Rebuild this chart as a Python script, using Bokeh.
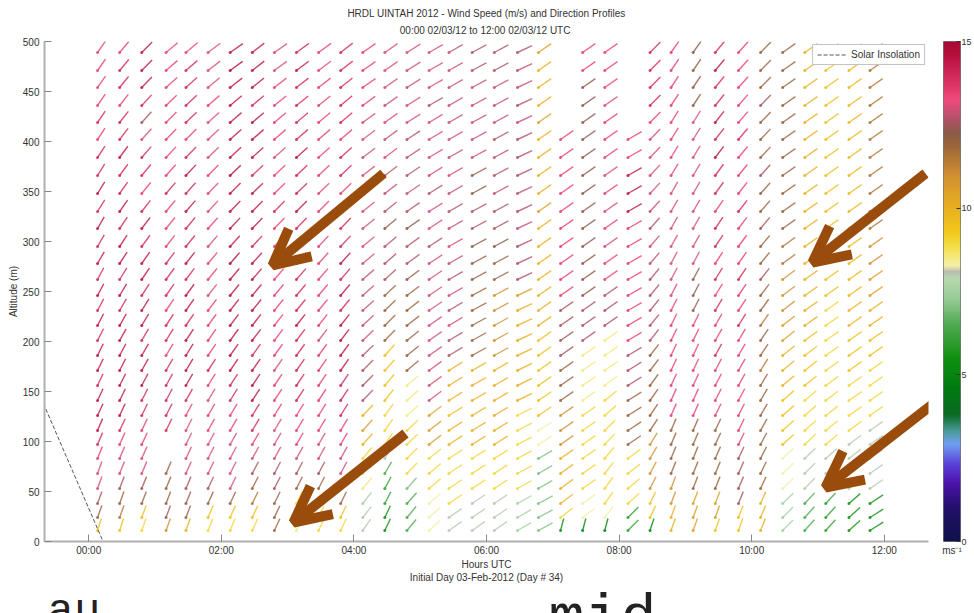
import numpy as np
import pandas as pd
from bokeh.plotting import figure
from bokeh.layouts import row, column
from bokeh.models import (ColumnDataSource, LinearColorMapper, FixedTicker, LinearAxis,
                          Legend, LegendItem, Arrow, OpenHead, Range1d, Title)
from bokeh.transform import linear_cmap
from bokeh.core.properties import value
from bokeh.embed import file_html
from bokeh.resources import INLINE

# ---------------- texts ----------------
TITLE_1 = "HRDL UINTAH 2012 - Wind Speed (m/s) and Direction Profiles"
TITLE_2 = "00:00 02/03/12 to 12:00 02/03/12  UTC"
X_TITLE = "Hours UTC"
X_TITLE_2 = "Initial Day 03-Feb-2012 (Day # 34)"
Y_TITLE = "Altitude (m)"
LEGEND_LABEL = "Solar Insolation"
CB_UNIT = "ms\u207b\u00b9"
SLIDE_TEXTS = ["au", "mid"]

X_TICKS = [0, 120, 240, 360, 480, 600, 720]
X_TICK_LABELS = ["00:00", "02:00", "04:00", "06:00", "08:00", "10:00", "12:00"]
Y_TICKS = [0, 50, 100, 150, 200, 250, 300, 350, 400, 450, 500]
CB_TICKS = [0, 5, 10, 15]

# ---------------- data ----------------
PROFILE_TIME_MIN = [8, 28, 48, 70, 88, 108, 128, 148, 168, 188, 208, 228,
                    248, 268, 288, 308, 326, 347, 367, 388, 407, 427, 447, 467,
                    488, 508, 527, 547, 567, 588, 608, 628, 648, 667, 688, 707]
GATE_ALT_M = [11, 24, 38, 53, 68, 83, 97, 111, 126, 141, 156, 171, 186, 201, 216, 231,
              246, 262, 278, 295, 313, 330, 348, 366, 384, 402, 419, 436, 454, 471, 489]

SOLAR_T = [-41, 13]
SOLAR_V = [138, 0]

spd_00 = [9.5, 12, 12.5, 13, 13, 13.5, 14, 14.5, 14.5, 14.5, 14, 14.5, 14.5, 14, 14.5, 14,
          14.5, 14, 14.5, 14, 14.5, 14, 14.5, 14, 14, 13.5, 14, 13.5, 13, 13.5, 13]
dir_00 = [198, 200, 200, 200, 200, 202, 203, 203, 205, 205, 205, 206, 206, 207, 207, 208,
          208, 208, 210, 210, 210, 212, 212, 212, 213, 213, 214, 214, 215, 215, 215]
spd_01 = [9.5, 11.5, 12, 12.5, 13, 13, 13.5, 14, 14.5, 14.5, 14.5, 14.5, 14.5, 14.5, 14.5, 14,
          14.5, 14, 14.5, 14.5, 14, 14.5, 14, 14, 14.5, 14, 14, 13.5, 14, 14, 13.5]
dir_01 = [198, 200, 200, 201, 202, 203, 204, 205, 205, 206, 207, 207, 208, 209, 210, 210,
          211, 212, 213, 213, 214, 215, 215, 216, 216, 217, 218, 218, 219, 220, 220]
spd_02 = [9, 9.5, 12, 12.5, 13, 13, 13.5, 13.5, 14, 14, 14.5, 14.5, 14.5, 14, 14.5, 14.5,
          14, 14.5, 14.5, 14, 14.5, 14, 13.5, 14, 14, 13, 12.5, 14, 14.5, 14.5, 14.5]
dir_02 = [200, 200, 201, 202, 203, 204, 205, 205, 206, 207, 208, 209, 210, 210, 211, 212,
          213, 214, 215, 216, 217, 218, 219, 220, 221, 222, 222, 223, 224, 225, 225]
spd_03 = [11, 12.5, 12, 12, 12, None, None, 14, 14, 14, 14, 14, 13.5, 14, 14, 13.5,
          14, 14, 14, 13.5, 13.5, 13.5, 14, 13.5, 13.5, 13.5, 13.5, 13.5, 13.5, 13.5, 13.5]
dir_03 = [200, 200, 201, 202, 203, None, None, 206, 207, 208, 209, 210, 211, 212, 213, 214,
          215, 216, 217, 218, 219, 220, 221, 222, 223, 224, 225, 226, 228, 229, 230]
spd_04 = [10, 12, 12.5, 12.5, 13, 13, 13, 13, 13.5, 14, 14.5, 14.5, 14.5, 14.5, 14, 14.5,
          14.5, 14, 14.5, 14, 14, 14.5, 14, 14.5, 14, 13.5, 14, 14, 14, 14, 13.5]
dir_04 = [200, 201, 202, 203, 204, 205, 206, 207, 208, 209, 210, 211, 212, 213, 214, 215,
          216, 217, 218, 219, 220, 221, 222, 223, 224, 225, 226, 227, 228, 229, 230]
spd_05 = [9, 9.5, 12, 12.5, 13, 13, 13, 13.5, 13.5, 13, 13.5, 14, 13.5, 13.5, 13.5, 13.5,
          13, 13.5, 13, 13, 13.5, 13, 13, 13.5, 13, 13, 13, 13.5, 13, 13, 13]
dir_05 = [202, 203, 204, 205, 206, 207, 208, 209, 210, 211, 212, 213, 214, 215, 216, 217,
          218, 219, 220, 221, 222, 223, 224, 225, 226, 227, 228, 229, 230, 232, 233]
spd_06 = [9, 9.5, 12, 13, 13, 13, 13, 13.5, 13.5, 14, 14, 14.5, 14.5, 14.5, 14.5, 14.5,
          14.5, 14.5, 15, 14.5, 14.5, 14.5, 14.5, 15, 14.5, 14.5, 14.5, 14.5, 14.5, 15, 14.5]
dir_06 = [203, 204, 205, 206, 207, 208, 209, 210, 211, 212, 213, 214, 215, 216, 217, 218,
          219, 220, 221, 222, 223, 224, 225, 226, 227, 228, 229, 230, 232, 234, 235]
spd_07 = [9, 9.5, 11.5, 12, 12.5, 13, 13.5, 14, 14, 14.5, 14.5, 14.5, 14, 14.5, 14.5, 14.5,
          14.5, 14.5, 14.5, 14, 14.5, 14.5, 14.5, 14, 14.5, 14.5, 14.5, 14, 14.5, 14.5, 14.5]
dir_07 = [205, 205, 206, 207, 208, 209, 210, 211, 212, 213, 214, 215, 216, 217, 218, 219,
          220, 221, 222, 223, 224, 225, 226, 227, 228, 229, 230, 230, 231, 232, 232]
spd_08 = [12, 12, 12, 12.5, 12.5, 13, 13, 13, 13.5, 13.5, 13.5, 13, 13.5, 13.5, 13.5, 13.5,
          13.5, 13.5, 14, 13.5, 13.5, 14, 13.5, 13.5, 13, 13.5, 13.5, 13.5, 13.5, 13, 13]
dir_08 = [205, 205, 206, 207, 208, 209, 210, 211, 212, 213, 214, 215, 216, 217, 218, 219,
          220, 221, 222, 223, 224, 225, 226, 227, 228, 229, 230, 231, 232, 234, 235]
spd_09 = [8.5, 8.5, 9, 12, 12.5, 13, 13.5, 13.5, 13.5, 14, 14, 14, 14, 14, 14.5, 14,
          14, 14, 14.5, 14.5, 14, 14.5, 14, 14, 14.5, 14, 14, 14, 14, 14.5, 14]
dir_09 = [205, 205, 206, 207, 208, 209, 210, 211, 212, 213, 214, 215, 216, 217, 218, 219,
          220, 221, 222, 223, 224, 225, 226, 227, 228, 229, 230, 231, 232, 233, 234]
spd_10 = [9, 9, 9.5, 12, 12.5, 13, 13, 13.5, 13.5, 13.5, 13.5, 13.5, 13.5, 13, 13.5, 13.5,
          13.5, 13.5, 13.5, 13.5, 13.5, 13.5, 13, 13.5, 13.5, 13.5, 13.5, 13.5, 13.5, 13.5, 13.5]
dir_10 = [205, 205, 206, 207, 208, 209, 210, 211, 212, 213, 214, 215, 216, 217, 218, 219,
          220, 221, 222, 223, 224, 225, 226, 227, 228, 229, 230, 231, 232, 233, 234]
spd_11 = [9, 9.5, 12, 12, 13, 13, 13.5, 13.5, 14, 14, 14, 14.5, 14.5, 14.5, 14.5, 14,
          14.5, 14, 14.5, 14, 14, 14, 13.5, 14, 14, 13.5, 14, 14, 14, 14, 14]
dir_11 = [205, 205, 206, 207, 208, 209, 210, 211, 212, 213, 214, 215, 216, 217, 218, 219,
          220, 221, 222, 223, 224, 225, 226, 227, 228, 229, 230, 230, 231, 232, 232]
spd_12 = [8, 8, 7.5, 8.5, 9, 9, 10, 10.5, 10, 12.6, 12.6, 12.6, 12.6, 12.8, 12.8, 12.8,
          12.8, 12.8, 12.8, 13, 12.8, 13, 13, 13, 12.8, 13, 13, 13.5, 13.5, 13.5, 13.5]
dir_12 = [215, 218, 218, 220, 220, 220, 222, 222, 224, 224, 225, 225, 226, 226, 227, 228,
          228, 229, 230, 230, 231, 231, 232, 232, 233, 233, 234, 234, 235, 235, 235]
spd_13 = [5.5, 5.5, 6, 6, 6.5, 8, 9, 9, 9, 9.5, 9.5, 9.5, 9.5, 12, 12, 12,
          12, 12.6, 12.6, 12.6, 12.3, 12.6, 12.8, 12.6, 13, 12.8, 13, 12.8, 13, 13, 13]
dir_13 = [205, 205, 207, 208, 210, 212, 214, 215, 216, 218, 220, 222, 222, 224, 225, 226,
          227, 228, 229, 230, 230, 231, 232, 233, 233, 234, 234, 235, 235, 235, 235]
spd_14 = [6.5, 6.5, 6.5, 7, 9, 9, 9, 9, 8.5, 8.5, 8.5, 12, 12, 12, 12, 12,
          12, 12.3, 12.6, 12.6, 12.3, 12.6, 12.8, 12.6, 12.8, 12.6, 13, 13, 12.8, 12.8, 13]
dir_14 = [220, 220, 222, 222, 224, 225, 226, 227, 228, 229, 230, 230, 231, 231, 232, 232,
          233, 233, 234, 234, 235, 235, 236, 236, 237, 237, 238, 238, 238, 238, 238]
spd_15 = [8.3, 8.3, 8.3, 9, 9, 9, 10.5, 10.5, 10.5, 13, 13, 13, 13, 13, 13, 13,
          13, 13, 13, 12.6, 13, 13, 12.6, 13, 13, 13, 13, 12.6, 13, 13, 13]
dir_15 = [228, 228, 229, 230, 230, 231, 232, 232, 233, 233, 234, 234, 235, 235, 235, 236,
          236, 236, 237, 237, 237, 238, 238, 238, 239, 239, 239, 240, 240, 240, 240]
spd_16 = [8, 8, 9, 9, 9, 9, 10, 10, 9.5, 10, 10, 10, 12.6, 12.6, 13, 12.6,
          13, 12.6, 12.8, 13, 12.8, 12.6, 12.8, 13, 12.8, 13, 12.8, 12.8, 12.8, 12.8, 12.8]
dir_16 = [235, 235, 236, 236, 236, 237, 237, 237, 238, 238, 238, 238, 239, 239, 239, 239,
          240, 240, 240, 240, 240, 240, 240, 240, 240, 240, 240, 240, 240, 240, 240]
spd_17 = [8, 8, 8, 9, 9, 9, 10, 10, 10, 10, 10, 10, 12, 12, 12, 12,
          12, 12.3, 12.3, 12.3, 12.6, 12.6, 12.3, 12.3, 12.8, 12.8, 12.8, 12.8, 12.8, 12.6, 12.6]
dir_17 = [235, 236, 236, 237, 237, 238, 238, 239, 239, 240, 240, 240, 241, 241, 241, 242,
          242, 242, 242, 242, 242, 242, 242, 242, 242, 242, 242, 242, 242, 242, 242]
spd_18 = [8, 8, 8, 9, 9, 9, 10, 10, 10, 10, 10, 10, 11, 11, 11, 11,
          11, 12, 12, 12.3, 12.6, 12.6, 12.8, 12.6, 12.8, 12.6, 12.8, 12.8, 12.8, 12.6, 12.6]
dir_18 = [235, 236, 236, 237, 237, 238, 238, 239, 239, 240, 240, 240, 241, 241, 241, 242,
          242, 242, 242, 242, 242, 242, 242, 242, 242, 242, 242, 242, 242, 242, 242]
spd_19 = [7.5, 7.5, 7.5, 9, 9, 9, 9, 9, 9, 10, 10, 10, 10, 10, 10, 10,
          10.5, 12.6, 12.6, 12.6, 12.8, 12.6, 12.8, 12.6, 12.6, 12.6, 12.8, 12.6, 12.8, 12.8, 12.6]
dir_19 = [240, 240, 241, 241, 242, 242, 243, 243, 243, 244, 244, 244, 245, 245, 245, 245,
          245, 245, 245, 245, 245, 245, 245, 245, 245, 245, 245, 245, 245, 245, 245]
spd_20 = [7, 7, 7, 7, 7, 7, 8.3, 8.3, 9.5, 9.5, 9.5, 9.5, 9.5, 9.5, 10, 10,
          10, 10, 10, 10, 10, 10.5, 10, 10, 10, 10, 10.5, 10, 10, 10, 10.5]
dir_20 = [242, 242, 242, 240, 240, 240, 238, 238, 236, 236, 235, 235, 235, 235, 235, 235,
          235, 235, 235, 235, 235, 235, 235, 235, 235, 235, 235, 235, 235, 235, 235]
spd_21 = [5.5, 9, 10, 10, 10, 10, 11, 11, 11, 12, 12, 12, 12.5, 12.5, 12.5, 12.5,
          13.5, 13.5, 13.5, 13.5, 13.5, 13.5, 13.5, 13.5, 13.5, 13.5, None, None, None, None, None]
dir_21 = [195, 232, 233, 234, 234, 235, 235, 235, 235, 235, 235, 235, 235, 235, 235, 235,
          235, 235, 235, 235, 235, 235, 235, 235, 235, 235, None, None, None, None, None]
spd_22 = [5, 8.3, 8.3, 9, 9, 9, 9, 9, 9, 8.5, 8.5, 8.5, 8.5, 12.6, 12.6, 12.6,
          12.3, 12.3, 12.3, 12.3, 12.3, 12.3, 12.3, 12.3, 12.3, 12.3, 12.3, 12.3, 12.3, 13.5, 13.5]
dir_22 = [195, 233, 234, 235, 235, 235, 235, 235, 235, 235, 235, 235, 235, 235, 235, 235,
          235, 235, 235, 235, 235, 235, 235, 235, 235, 235, 235, 235, 235, 235, 235]
spd_23 = [5, 8.3, 9, 9, 9, 9, 9, 9, 9, 9, 8.5, 8.5, 8.5, 8.5, 12.6, 12.6,
          12.6, 13.5, 13.5, 13, 13.5, 13, 13.5, 13, 13.5, 13.5, 13.5, 13, 13.5, 13.5, 13.5]
dir_23 = [195, 218, 216, 216, 218, 220, 223, 226, 229, 231, 233, 235, 235, 235, 235, 235,
          235, 235, 235, 235, 235, 235, 235, 235, 235, 235, 235, 235, 235, 235, 235]
spd_24 = [6, 6, 9, 9, 9, 9, 12, 12, 12, 12, 12.6, 12.6, 12.6, 13.5, 13.5, 13.5,
          13.5, 13.5, 13.5, 13.5, 13.5, 14.5, 14.5, 14.5, 13.5, 13.5, None, None, None, None, None]
dir_24 = [225, 225, 228, 230, 232, 234, 236, 237, 238, 238, 238, 238, 239, 239, 239, 240,
          240, 240, 240, 240, 240, 240, 240, 240, 240, 240, None, None, None, None, None]
spd_25 = [5, 9.5, 9.5, 11, 11, 11, 11, 12, 12, 12, 12, 12, 12, 12.6, 12.6, 12.6,
          12.6, 12.6, 12.8, 12.8, 12.6, 12.8, 13, 13, 13, 13, 13.5, 14, 14, 14, 14]
dir_25 = [198, 205, 205, 207, 208, 210, 212, 213, 214, 215, 216, 217, 218, 218, 219, 219,
          220, 220, 221, 221, 222, 222, 223, 223, 224, 224, 225, 225, 225, 225, 225]
spd_26 = [10, 10, 11, 11, 12, 12, 12, 12, 13.5, 13.5, 13.5, 13.5, 13.5, 13.5, 13.5, 13.5,
          13.5, 13, 13, 13, 13, 13, 13, 13.5, 13.5, 13.5, 13.5, 13.5, 13.5, 13.5, 13.5]
dir_26 = [200, 200, 201, 201, 202, 202, 203, 203, 204, 204, 205, 205, 205, 206, 206, 207,
          207, 208, 208, 209, 209, 210, 210, 211, 211, 212, 212, 213, 213, 214, 215]
spd_27 = [10.5, 10.5, 10.5, 12, 12, 12, 12, 12, 13.5, 13.5, 13.5, 13.5, 13.5, 13.5, 13.5, 12.3,
          12.3, 12.3, 13, 13, 13, 13, 13, 13, 13, 13, 13, 12.3, 12.3, 12.3, 12.3]
dir_27 = [200, 200, 201, 201, 202, 202, 203, 203, 204, 204, 205, 205, 205, 206, 206, 207,
          207, 208, 208, 209, 209, 210, 210, 211, 211, 212, 212, 213, 213, 214, 215]
spd_28 = [9.5, 10.5, 10.5, 12, 12, 12, 12, 12, 13.5, 13.5, 13.5, 13.5, 14, 13.5, 13.5, 14,
          13.5, 14, 13.5, 14, 14, 13.5, 14, 14, 14.5, 14, 14.5, 14, 14, 14.5, 14]
dir_28 = [200, 200, 201, 202, 203, 204, 205, 205, 206, 207, 208, 208, 209, 210, 210, 211,
          212, 212, 213, 214, 214, 215, 216, 216, 217, 218, 218, 219, 219, 220, 220]
spd_29 = [9.5, 9.5, 12.5, 12.5, 12.5, 12.5, 13.5, 13.5, 13.5, 13.5, 13.5, 13.5, 13.5, 13.5, 14, 13.5,
          13.5, 14, 13.5, 13.5, 13.5, 14, 13.5, 13.5, 13.5, 14, 13.5, 13.5, 13.5, 13.5, 13.5]
dir_29 = [200, 201, 202, 203, 204, 205, 206, 206, 207, 208, 209, 210, 210, 211, 212, 213,
          214, 214, 215, 216, 217, 218, 218, 219, 220, 220, 221, 221, 222, 222, 222]
spd_30 = [10, 10, 10, 12, 12, 12, 12, 12, 12, 12, 12, 11.5, 12, 12, 11.5, 12,
          12, 12.5, 12, 12, 12.5, 12, 12, 12.5, 12, 12, 12, 12.5, 12, 12, 12]
dir_30 = [202, 203, 204, 205, 206, 207, 208, 209, 210, 210, 211, 212, 213, 214, 215, 216,
          217, 218, 219, 220, 220, 221, 222, 222, 223, 223, 224, 224, 225, 225, 225]
spd_31 = [7.5, 7.5, 7.5, 8.3, 8.3, 8.3, 9.5, 9.5, 9.5, 9.5, 10, 10, 10, 10.5, 10.5, 11,
          11, 11, 11.5, 11.5, 12, 12, 12, 12, 12, 12, 12, 12, 12, 12, 12]
dir_31 = [225, 225, 226, 226, 227, 227, 228, 228, 229, 229, 230, 230, 231, 231, 232, 232,
          233, 233, 234, 234, 235, 235, 235, 235, 235, 235, 235, 235, 235, 235, 235]
spd_32 = [6.5, 6.5, 6.5, 8, 8, 8, 9, 9, 9, 9, 9.5, 9.5, 9.5, 9.5, 10, 10,
          10, 10, 10, 10, 10, 10, 10, 10, 10, 10, 10, 10, 10, 10, 10]
dir_32 = [222, 222, 223, 224, 225, 226, 227, 228, 229, 230, 231, 232, 233, 234, 235, 235,
          235, 235, 235, 235, 235, 235, 235, 235, 235, 235, 235, 235, 235, 235, 235]
spd_33 = [6, 6, 6, 8, 8, 8, 9, 9, 9, 9, 9, 9, 9, 9, 9, 9,
          9.5, 9.5, 9.5, 9.5, 9.5, 9.5, 9.5, 9.5, 9.5, 9.5, 9.5, 9.5, 9.5, 9.5, 9.5]
dir_33 = [222, 222, 223, 225, 227, 229, 230, 231, 232, 233, 234, 235, 235, 235, 235, 235,
          235, 235, 235, 235, 235, 235, 235, 235, 235, 235, 235, 235, 235, 235, 235]
spd_34 = [5.5, 5.5, 5.5, 8, 8, 8, 8, 9, 9, 9, 9, 9.5, 9.5, 9.5, 9.8, 9.8,
          9.8, 9.8, 9.8, 9.8, 9.8, 9.8, 9.8, 9.8, 9.8, 9.8, 9.8, 9.8, 9.8, 9.8, 9.8]
dir_34 = [228, 228, 229, 230, 231, 232, 233, 234, 235, 235, 235, 235, 235, 235, 235, 235,
          235, 235, 235, 235, 235, 235, 235, 235, 235, 235, 235, 235, 235, 235, 235]
spd_35 = [5.5, 5.5, 5.5, 8, 8, 8, 8, 8, 9, 9, 9, 9, 9.5, 9.5, 10, 10,
          10.5, 10.5, 11, 11, 11.5, 11.5, 11.5, 11.5, 11.5, 11.5, 11.5, 11.5, 11.5, 11.5, 11.5]
dir_35 = [238, 238, 237, 236, 235, 235, 235, 235, 235, 235, 235, 235, 235, 235, 235, 235,
          235, 235, 235, 235, 235, 235, 235, 235, 235, 235, 235, 235, 235, 235, 235]

SPEEDS = [spd_00, spd_01, spd_02, spd_03, spd_04, spd_05, spd_06, spd_07, spd_08, spd_09,
          spd_10, spd_11, spd_12, spd_13, spd_14, spd_15, spd_16, spd_17, spd_18, spd_19,
          spd_20, spd_21, spd_22, spd_23, spd_24, spd_25, spd_26, spd_27, spd_28, spd_29,
          spd_30, spd_31, spd_32, spd_33, spd_34, spd_35]
DIRS = [dir_00, dir_01, dir_02, dir_03, dir_04, dir_05, dir_06, dir_07, dir_08, dir_09,
        dir_10, dir_11, dir_12, dir_13, dir_14, dir_15, dir_16, dir_17, dir_18, dir_19,
        dir_20, dir_21, dir_22, dir_23, dir_24, dir_25, dir_26, dir_27, dir_28, dir_29,
        dir_30, dir_31, dir_32, dir_33, dir_34, dir_35]

# ---------------- styles ----------------
FONT = "Liberation Sans"
TXT = "#333333"
AXIS_GRAY = "#b0b0b0"
BROWN = "#994c0c"
CMAP_STOPS = [(0.0, "#10104a"), (1.0, "#22106a"), (1.7, "#4a12aa"), (2.3, "#5a40d8"),
              (2.9, "#70a0f0"), (3.3, "#4a9a9a"), (3.8, "#0a6a20"), (4.6, "#007a10"),
              (5.5, "#109010"), (6.5, "#50aa50"), (7.3, "#98cc98"), (7.9, "#b8d8b0"),
              (8.1, "#b8b8b0"), (8.3, "#f6f0a8"), (8.8, "#f4e050"), (9.3, "#f2c818"),
              (10.0, "#e8b020"), (11.0, "#d09030"), (11.8, "#a06838"), (12.3, "#8a5a48"),
              (12.8, "#c05070"), (13.3, "#f04a7a"), (14.0, "#d02858"), (14.6, "#b8103e"),
              (15.0, "#a80a35")]


def build_palette(stops, n=256):
    vals = [s[0] for s in stops]
    rgbs = [tuple(int(c[i:i + 2], 16) for i in (1, 3, 5)) for _, c in stops]
    out = []
    for k in range(n):
        v = vals[0] + (vals[-1] - vals[0]) * k / (n - 1)
        j = max(0, min(len(vals) - 2, int(np.searchsorted(vals, v)) - 1))
        f = (v - vals[j]) / (vals[j + 1] - vals[j])
        f = min(max(f, 0.0), 1.0)
        rgb = [round(rgbs[j][i] + (rgbs[j + 1][i] - rgbs[j][i]) * f) for i in range(3)]
        out.append("#%02x%02x%02x" % tuple(rgb))
    return out


PALETTE = build_palette(CMAP_STOPS)

# ---------------- table ----------------
rows = []
for t, sp, dr in zip(PROFILE_TIME_MIN, SPEEDS, DIRS):
    for alt, s, d in zip(GATE_ALT_M, sp, dr):
        if s is None or d is None:
            continue
        rows.append((t, alt, s, d))
df = pd.DataFrame(rows, columns=["t", "alt", "spd", "wdir"])
df["ang"] = np.radians(270.0 - df["wdir"])
df["len"] = np.sqrt((17 * np.cos(df["ang"])) ** 2 + (12 * np.sin(df["ang"])) ** 2)
src = ColumnDataSource(df)

mapper = LinearColorMapper(palette=PALETTE, low=0, high=15)
cmap = linear_cmap("spd", PALETTE, 0, 15)

# ---------------- main figure ----------------
p = figure(width=931, height=590, x_range=Range1d(-40, 760), y_range=Range1d(0, 500),
           min_border_left=44, min_border_right=3, min_border_top=41, min_border_bottom=49,
           toolbar_location=None, output_backend="svg", title=None)
p.outline_line_color = None
p.grid.visible = False
p.border_fill_color = "white"

for ax in (p.xaxis[0], p.yaxis[0]):
    ax.axis_line_color = AXIS_GRAY
    ax.axis_line_width = 2
    ax.major_tick_line_color = "#888888"
    ax.major_tick_in = 7
    ax.major_tick_out = 0
    ax.minor_tick_line_color = None
    ax.major_label_text_font = FONT
    ax.major_label_text_font_size = "10px"
    ax.major_label_text_color = TXT
    ax.axis_label_text_font = FONT
    ax.axis_label_text_font_size = "10px"
    ax.axis_label_text_font_style = "normal"
    ax.axis_label_text_color = TXT

p.xaxis.ticker = FixedTicker(ticks=X_TICKS)
p.xaxis.major_label_overrides = {k: v for k, v in zip(X_TICKS, X_TICK_LABELS)}
p.xaxis.major_label_standoff = 3
p.xaxis.axis_label = X_TITLE
p.xaxis.axis_label_standoff = 0
p.yaxis.ticker = FixedTicker(ticks=Y_TICKS)
p.yaxis.major_label_standoff = 5
p.yaxis.axis_label = Y_TITLE
p.yaxis.axis_label_standoff = 1

TITLE_STYLE = dict(align="center", text_font=FONT, text_font_size="10px",
                   text_font_style="normal", text_color=TXT)
p.add_layout(Title(text=TITLE_2, standoff=11, **TITLE_STYLE), "above")
p.add_layout(Title(text=TITLE_1, standoff=-3, **TITLE_STYLE), "above")
p.add_layout(Title(text=X_TITLE_2, standoff=-6, **TITLE_STYLE), "below")

p.ray(x="t", y="alt", length="len", length_units="screen", angle="ang",
      line_color=cmap, line_width=1.4, line_alpha=0.8, source=src)
p.scatter(x="t", y="alt", size=3, fill_color=cmap, line_color=None, fill_alpha=0.85, source=src)

sol = p.line(SOLAR_T, SOLAR_V, line_dash="4 2", line_color="#555555", line_width=1)
legend = Legend(items=[LegendItem(label=LEGEND_LABEL, renderers=[sol])],
                location="top_right", margin=3, padding=4, spacing=0,
                glyph_width=30, glyph_height=11, label_height=11, label_standoff=4,
                label_text_font=FONT, label_text_font_size="10px", label_text_color=TXT,
                border_line_color="#888888", border_line_width=1,
                background_fill_color="white", background_fill_alpha=1)
p.add_layout(legend)

ARROWS = [((266.8, 368), (166.3, 276)), ((757.3, 368), (655.0, 279)),
          ((286.7, 108), (185.3, 19)), ((768.1, 141), (666.8, 54))]
for (xs, ys), (xe, ye) in ARROWS:
    p.add_layout(Arrow(end=OpenHead(size=36, line_width=10, line_color=BROWN),
                       x_start=xs, y_start=ys, x_end=xe, y_end=ye,
                       line_width=10, line_color=BROWN))

# ---------------- colour bar figure ----------------
cbf = figure(width=43, height=590, x_range=Range1d(0, 1), y_range=Range1d(0, 15),
             min_border_left=12, min_border_right=11, min_border_top=40, min_border_bottom=48,
             toolbar_location=None, output_backend="svg", title=None,
             x_axis_location=None, y_axis_location=None)
cbf.grid.visible = False
cbf.outline_line_color = "#777777"
cbf.border_fill_color = "white"
CB_LEVELS = np.linspace(0, 15, 256).reshape(-1, 1)
cbf.image(image=[CB_LEVELS], x=0, y=0, dw=1, dh=15, color_mapper=mapper)
cb_axis = LinearAxis(ticker=FixedTicker(ticks=CB_TICKS), axis_line_color=None,
                     major_tick_in=4, major_tick_out=0, major_tick_line_color="#333333",
                     minor_tick_line_color=None, major_label_standoff=1,
                     major_label_text_font=FONT, major_label_text_font_size="9px",
                     major_label_text_color=TXT)
cbf.add_layout(cb_axis, "right")
unit_axis = LinearAxis(ticker=FixedTicker(ticks=[]), axis_line_color=None,
                       major_tick_line_color=None, minor_tick_line_color=None,
                       major_label_text_font_size="0px", axis_label=CB_UNIT,
                       axis_label_standoff=3, axis_label_text_font=FONT,
                       axis_label_text_font_size="10px", axis_label_text_font_style="normal",
                       axis_label_text_color=TXT)
cbf.add_layout(unit_axis, "below")

# ---------------- slide text strip ----------------
tf = figure(width=974, height=23, x_range=Range1d(0, 974), y_range=Range1d(0, 23),
            min_border=0, toolbar_location=None, output_backend="svg", title=None,
            x_axis_location=None, y_axis_location=None)
tf.grid.visible = False
tf.outline_line_color = None
tf.border_fill_color = "white"
SLIDE_X = [47, 548]
SLIDE_Y = [2, -5]
SLIDE_SIZE = ["44px", "60px"]
tf.text(x=SLIDE_X, y=SLIDE_Y, text=SLIDE_TEXTS, text_font=value("Liberation Mono"),
        text_font_size=SLIDE_SIZE, text_color="#222222", text_baseline="alphabetic",
        text_align="left")

layout = column(row(p, cbf, spacing=0), tf, spacing=0)
open("out.html", "w").write(file_html(layout, INLINE))
